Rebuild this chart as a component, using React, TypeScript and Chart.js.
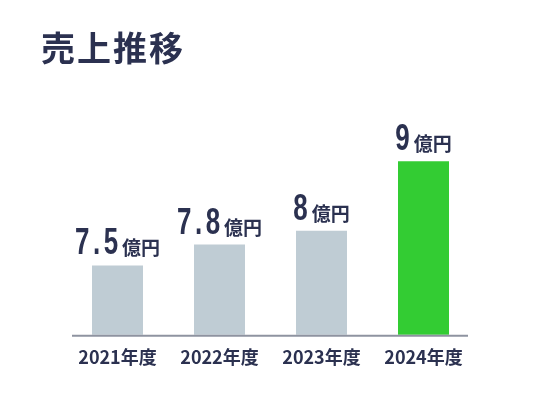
import { useEffect, useRef } from "react";
import { Chart, registerables } from "chart.js";
import type { Plugin } from "chart.js";

Chart.register(...registerables);

const years = ["2021年度", "2022年度", "2023年度", "2024年度"];
const sales = [7.5, 7.8, 8, 9];
const valueLabels = ["7.5", "7.8", "8", "9"];
const unit = "億円";

const NAVY = "#2b3150";
const GRAY_BAR = "#bfccd4";
const GREEN_BAR = "#33cc33";

const NUM_FONT = 'bold 36px "Liberation Sans", Arial, sans-serif';
const UNIT_FONT = 'bold 19px "Noto Sans CJK JP", sans-serif';
const SQUEEZE = 0.72; // the numbers are drawn condensed

const baseLine: Plugin<"bar"> = {
  id: "baseLine",
  afterDatasetsDraw(chart) {
    const { ctx, chartArea } = chart;
    ctx.save();
    ctx.strokeStyle = "#8e93a0";
    ctx.lineWidth = 2;
    ctx.beginPath();
    ctx.moveTo(chartArea.left + 5.5, chartArea.bottom + 1);
    ctx.lineTo(chartArea.right - 6.5, chartArea.bottom + 1);
    ctx.stroke();
    ctx.restore();
  },
};

const barValues: Plugin<"bar"> = {
  id: "barValues",
  afterDatasetsDraw(chart) {
    const { ctx } = chart;
    const meta = chart.getDatasetMeta(0);
    ctx.save();
    ctx.fillStyle = NAVY;
    ctx.textBaseline = "alphabetic";
    ctx.textAlign = "left";
    meta.data.forEach((bar, i) => {
      const { x, y } = bar.getProps(["x", "y"], true) as { x: number; y: number };
      const num = valueLabels[i];
      ctx.font = NUM_FONT;
      (ctx as any).letterSpacing = "5px";
      const numW = (ctx.measureText(num).width - 5) * SQUEEZE;
      ctx.font = UNIT_FONT;
      (ctx as any).letterSpacing = "0px";
      const unitW = ctx.measureText(unit).width;
      const gap = 4;
      const left = x - (numW + gap + unitW) / 2;
      const base = y - 11;

      ctx.save();
      ctx.translate(left, base);
      ctx.scale(SQUEEZE, 1);
      ctx.font = NUM_FONT;
      (ctx as any).letterSpacing = "5px";
      ctx.fillText(num, 0, 0);
      ctx.restore();

      ctx.font = UNIT_FONT;
      (ctx as any).letterSpacing = "0px";
      ctx.fillText(unit, left + numW + gap, base + 1);
    });
    ctx.restore();
  },
};

function SalesChart() {
  const canvasRef = useRef<HTMLCanvasElement | null>(null);
  const chartRef = useRef<Chart<"bar", number[], string> | null>(null);

  useEffect(() => {
    if (!canvasRef.current) return;
    const ctx = canvasRef.current.getContext("2d");
    if (!ctx) return;

    if (chartRef.current) chartRef.current.destroy();

    chartRef.current = new Chart(ctx, {
      type: "bar",
      data: {
        labels: years,
        datasets: [
          {
            label: "売上",
            data: sales,
            backgroundColor: sales.map((_, i) => (i === sales.length - 1 ? GREEN_BAR : GRAY_BAR)),
            categoryPercentage: 1,
            barPercentage: 0.5,
            borderWidth: 0,
          },
        ],
      },
      options: {
        responsive: false,
        animation: false,
        devicePixelRatio: 1,
        layout: {
          padding: { left: 66.5, right: 60.5, top: 92, bottom: 27.6 },
        },
        scales: {
          y: {
            display: false,
            min: 6.5,
            max: 10,
          },
          x: {
            grid: { display: false },
            border: { display: false },
            ticks: {
              color: NAVY,
              padding: 4,
              font: { family: '"Noto Sans CJK JP", sans-serif', size: 18, weight: "bold" },
            },
          },
        },
        plugins: {
          legend: { display: false },
          tooltip: { enabled: false },
        },
      },
      plugins: [baseLine, barValues],
    });

    return () => {
      if (chartRef.current) {
        chartRef.current.destroy();
        chartRef.current = null;
      }
    };
  }, []);

  return <canvas ref={canvasRef} width={535} height={400} style={{ position: "absolute", left: 0, top: 0 }} />;
}

export default function App() {
  return (
    <div style={{ position: "absolute", left: 0, top: 0, width: 535, height: 400, background: "#fff" }}>
      <SalesChart />
      <div
        style={{
          position: "absolute",
          left: 41,
          top: 23,
          fontFamily: '"Noto Sans CJK JP", sans-serif',
          fontWeight: 700,
          fontSize: 34,
          letterSpacing: 2,
          lineHeight: "48px",
          color: NAVY,
        }}
      >
        売上推移
      </div>
    </div>
  );
}
